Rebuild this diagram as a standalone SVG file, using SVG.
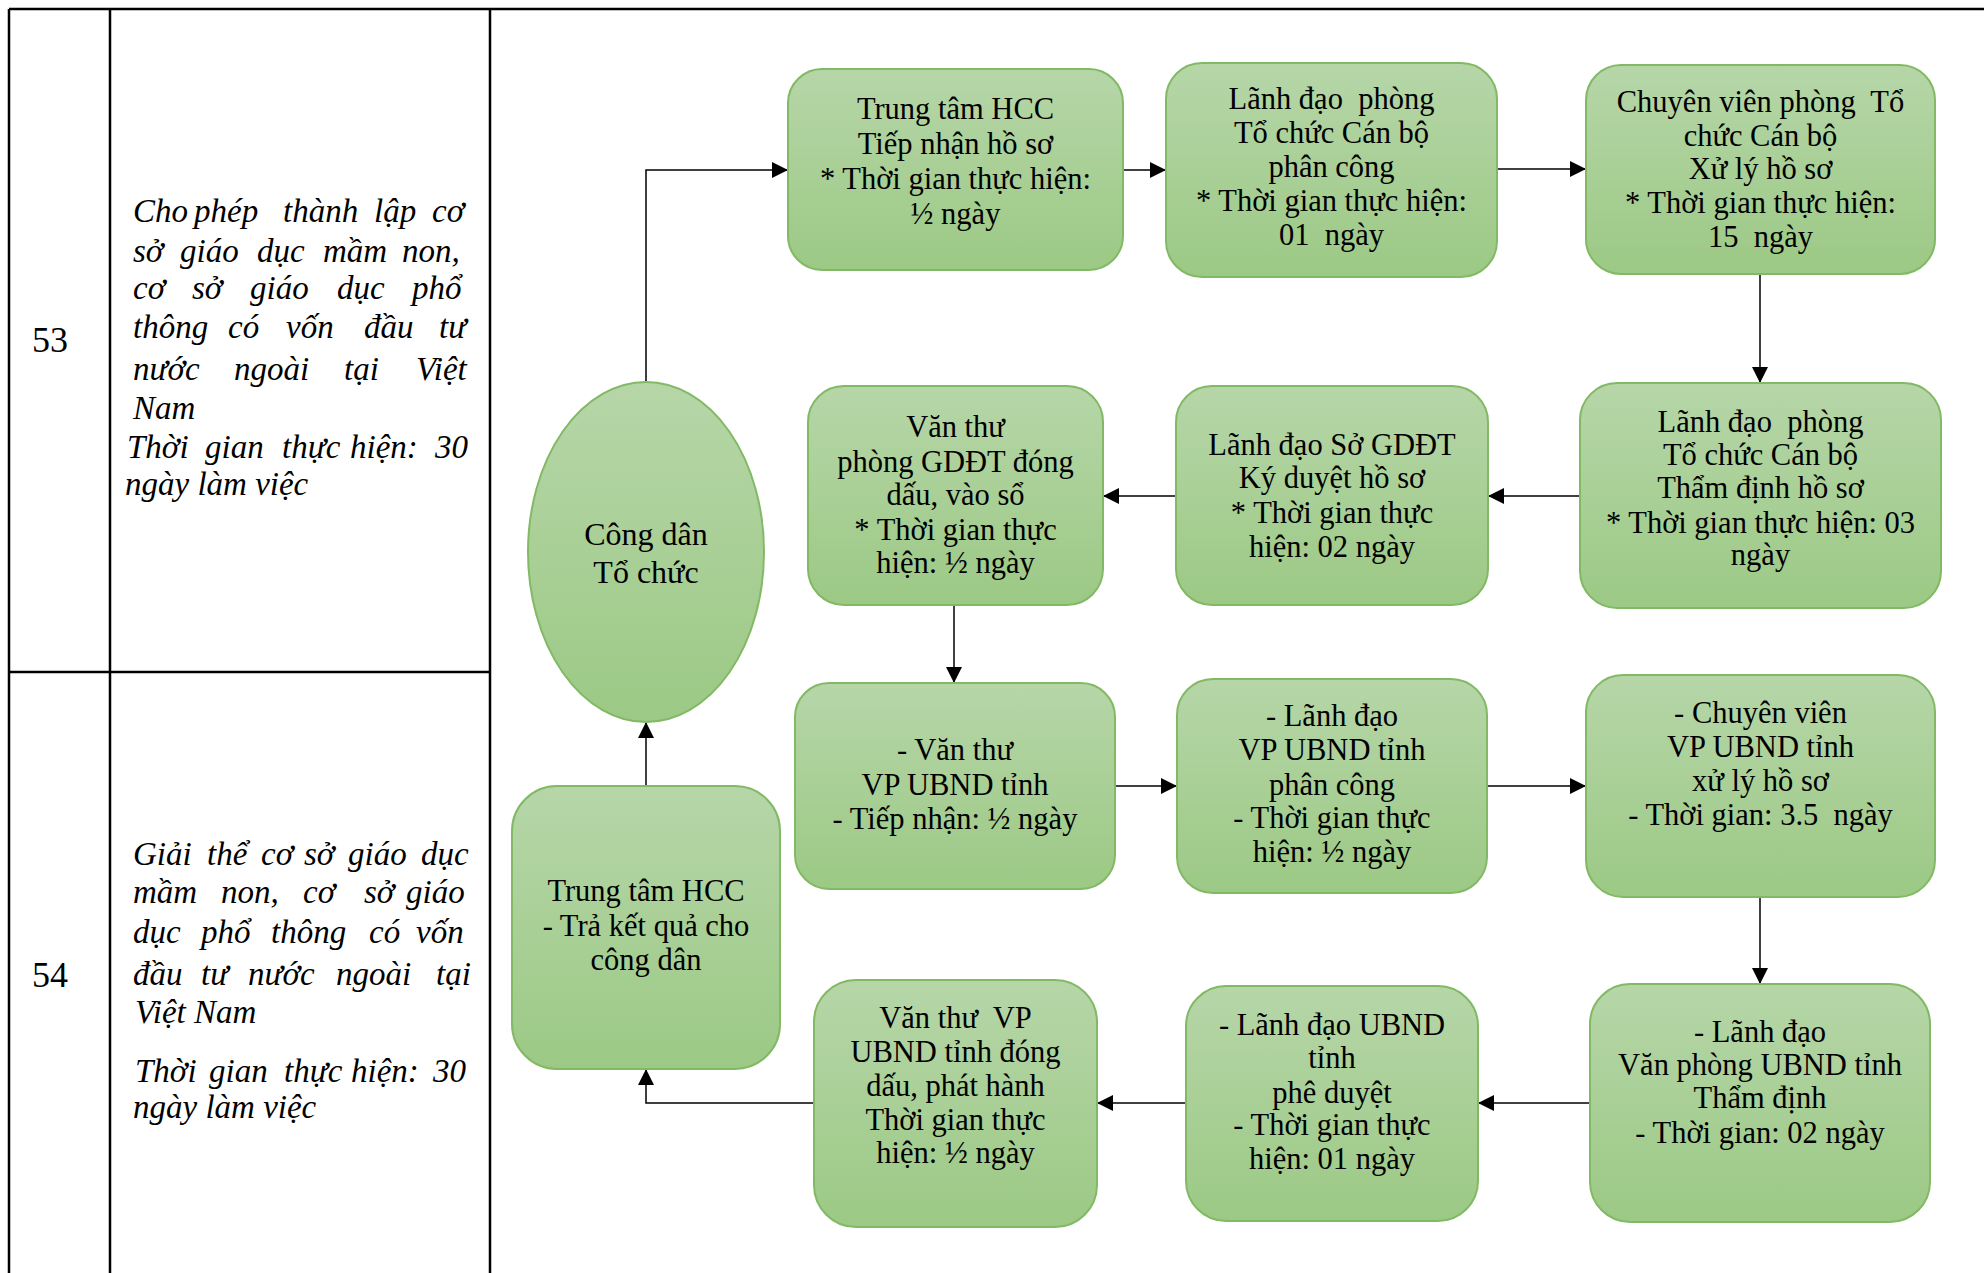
<svg xmlns="http://www.w3.org/2000/svg" width="1984" height="1273" viewBox="0 0 1984 1273">
<style>
.tbl{stroke:#000;stroke-width:2.5;fill:none}
.num{font-family:"Liberation Serif","Times New Roman",serif;font-size:36px;fill:#000}
.desc{font-family:"Liberation Serif","Times New Roman",serif;font-size:33px;font-style:italic;fill:#000}
.box{fill:url(#g);stroke:#82b964;stroke-width:2}
.lbl{font-family:"Liberation Serif","Times New Roman",serif;font-size:30.5px;fill:#000;text-anchor:middle;white-space:pre}
.big{font-size:32px}
.con{fill:none;stroke:#000;stroke-width:1.5;marker-end:url(#ah)}
</style>
<defs>
<linearGradient id="g" x1="0" y1="0" x2="0" y2="1">
<stop offset="0" stop-color="#b6d6a8"/>
<stop offset="1" stop-color="#9cc985"/>
</linearGradient>
<marker id="ah" markerUnits="userSpaceOnUse" markerWidth="16" markerHeight="16" refX="16" refY="8" orient="auto">
<path d="M0,0 L16,8 L0,16 z" fill="#000"/>
</marker>
</defs>
<rect width="1984" height="1273" fill="#fff"/>
<g id="table">
<line class="tbl" x1="9" y1="9" x2="1984" y2="9"/>
<line class="tbl" x1="9" y1="9" x2="9" y2="1273"/>
<line class="tbl" x1="110" y1="9" x2="110" y2="1273"/>
<line class="tbl" x1="490" y1="9" x2="490" y2="1273"/>
<line class="tbl" x1="9" y1="672" x2="490" y2="672"/>
<text class="num" x="32" y="352">53</text>
<text class="num" x="32" y="987">54</text>
<text class="desc" y="222"><tspan x="133">Cho</tspan><tspan x="194">phép</tspan><tspan x="283">thành</tspan><tspan x="374">lập</tspan><tspan x="432">cơ</tspan></text>
<text class="desc" y="262"><tspan x="133">sở</tspan><tspan x="180">giáo</tspan><tspan x="257">dục</tspan><tspan x="323">mầm</tspan><tspan x="402">non,</tspan></text>
<text class="desc" y="299"><tspan x="133">cơ</tspan><tspan x="192">sở</tspan><tspan x="250">giáo</tspan><tspan x="337">dục</tspan><tspan x="412">phổ</tspan></text>
<text class="desc" y="338"><tspan x="133">thông</tspan><tspan x="228">có</tspan><tspan x="286">vốn</tspan><tspan x="364">đầu</tspan><tspan x="439">tư</tspan></text>
<text class="desc" y="380"><tspan x="133">nước</tspan><tspan x="234">ngoài</tspan><tspan x="344">tại</tspan><tspan x="416">Việt</tspan></text>
<text class="desc" x="133" y="419">Nam</text>
<text class="desc" y="458"><tspan x="127">Thời</tspan><tspan x="205">gian</tspan><tspan x="282">thực</tspan><tspan x="350">hiện:</tspan><tspan x="435">30</tspan></text>
<text class="desc" x="125" y="495">ngày làm việc</text>
<text class="desc" y="865"><tspan x="133">Giải</tspan><tspan x="207">thể</tspan><tspan x="261">cơ</tspan><tspan x="304">sở</tspan><tspan x="348">giáo</tspan><tspan x="421">dục</tspan></text>
<text class="desc" y="903"><tspan x="133">mầm</tspan><tspan x="221">non,</tspan><tspan x="303">cơ</tspan><tspan x="364">sở</tspan><tspan x="406">giáo</tspan></text>
<text class="desc" y="943"><tspan x="133">dục</tspan><tspan x="201">phổ</tspan><tspan x="271">thông</tspan><tspan x="369">có</tspan><tspan x="416">vốn</tspan></text>
<text class="desc" y="985"><tspan x="133">đầu</tspan><tspan x="201">tư</tspan><tspan x="248">nước</tspan><tspan x="336">ngoài</tspan><tspan x="436">tại</tspan></text>
<text class="desc" x="135" y="1023">Việt Nam</text>
<text class="desc" y="1082"><tspan x="135">Thời</tspan><tspan x="209">gian</tspan><tspan x="284">thực</tspan><tspan x="351">hiện:</tspan><tspan x="433">30</tspan></text>
<text class="desc" x="133" y="1118">ngày làm việc</text>
</g>
<g id="connectors">
<path class="con" d="M646,382 V170 H788"/>
<path class="con" d="M1123,170 H1166"/>
<path class="con" d="M1497,169 H1586"/>
<path class="con" d="M1760,274 V383"/>
<path class="con" d="M1580,496 H1488"/>
<path class="con" d="M1176,496 H1103"/>
<path class="con" d="M954,605 V683"/>
<path class="con" d="M1115,786 H1177"/>
<path class="con" d="M1487,786 H1586"/>
<path class="con" d="M1760,897 V984"/>
<path class="con" d="M1590,1103 H1478"/>
<path class="con" d="M1186,1103 H1097"/>
<path class="con" d="M814,1103 H646 V1069"/>
<path class="con" d="M646,786 V722"/>
</g>
<g id="n-congdan">
<ellipse class="box" cx="646" cy="552" rx="118" ry="170"/>
<text class="lbl big" x="646" y="545">Công dân</text>
<text class="lbl big" x="646" y="583">Tổ chức</text>
</g>
<g id="n-hcc-tiepnhan">
<rect class="box" x="788" y="69" width="335" height="201" rx="34"/>
<text class="lbl" x="955.5" y="119">Trung tâm HCC</text>
<text class="lbl" x="955.5" y="154">Tiếp nhận hồ sơ</text>
<text class="lbl" x="955.5" y="189">* Thời gian thực hiện:</text>
<text class="lbl" x="955.5" y="224">½ ngày</text>
</g>
<g id="n-ldtccb-phancong">
<rect class="box" x="1166" y="63" width="331" height="214" rx="36"/>
<text class="lbl" x="1331.5" y="109">Lãnh đạo  phòng</text>
<text class="lbl" x="1331.5" y="143">Tổ chức Cán bộ</text>
<text class="lbl" x="1331.5" y="177">phân công</text>
<text class="lbl" x="1331.5" y="211">* Thời gian thực hiện:</text>
<text class="lbl" x="1331.5" y="245">01  ngày</text>
</g>
<g id="n-cvtccb-xuly">
<rect class="box" x="1586" y="65" width="349" height="209" rx="35"/>
<text class="lbl" x="1760.5" y="112">Chuyên viên phòng  Tổ</text>
<text class="lbl" x="1760.5" y="146">chức Cán bộ</text>
<text class="lbl" x="1760.5" y="179">Xử lý hồ sơ</text>
<text class="lbl" x="1760.5" y="213">* Thời gian thực hiện:</text>
<text class="lbl" x="1760.5" y="247">15  ngày</text>
</g>
<g id="n-ldtccb-thamdinh">
<rect class="box" x="1580" y="383" width="361" height="225" rx="37"/>
<text class="lbl" x="1760.5" y="432">Lãnh đạo  phòng</text>
<text class="lbl" x="1760.5" y="465">Tổ chức Cán bộ</text>
<text class="lbl" x="1760.5" y="498">Thẩm định hồ sơ</text>
<text class="lbl" x="1760.5" y="533">* Thời gian thực hiện: 03</text>
<text class="lbl" x="1760.5" y="565">ngày</text>
</g>
<g id="n-ldso-kyduyet">
<rect class="box" x="1176" y="386" width="312" height="219" rx="36"/>
<text class="lbl" x="1332" y="455">Lãnh đạo Sở GDĐT</text>
<text class="lbl" x="1332" y="488">Ký duyệt hồ sơ</text>
<text class="lbl" x="1332" y="523">* Thời gian thực</text>
<text class="lbl" x="1332" y="557">hiện: 02 ngày</text>
</g>
<g id="n-vanthu-gddt">
<rect class="box" x="808" y="386" width="295" height="219" rx="36"/>
<text class="lbl" x="955.5" y="437">Văn thư</text>
<text class="lbl" x="955.5" y="472">phòng GDĐT đóng</text>
<text class="lbl" x="955.5" y="505">dấu, vào sổ</text>
<text class="lbl" x="955.5" y="540">* Thời gian thực</text>
<text class="lbl" x="955.5" y="573">hiện: ½ ngày</text>
</g>
<g id="n-vanthu-ubnd-tiepnhan">
<rect class="box" x="795" y="683" width="320" height="206" rx="34"/>
<text class="lbl" x="955" y="760">- Văn thư</text>
<text class="lbl" x="955" y="795">VP UBND tỉnh</text>
<text class="lbl" x="955" y="829">- Tiếp nhận: ½ ngày</text>
</g>
<g id="n-ldvp-phancong">
<rect class="box" x="1177" y="679" width="310" height="214" rx="36"/>
<text class="lbl" x="1332" y="726">- Lãnh đạo</text>
<text class="lbl" x="1332" y="760">VP UBND tỉnh</text>
<text class="lbl" x="1332" y="795">phân công</text>
<text class="lbl" x="1332" y="828">- Thời gian thực</text>
<text class="lbl" x="1332" y="862">hiện: ½ ngày</text>
</g>
<g id="n-cvvp-xuly">
<rect class="box" x="1586" y="675" width="349" height="222" rx="37"/>
<text class="lbl" x="1760.5" y="723">- Chuyên viên</text>
<text class="lbl" x="1760.5" y="757">VP UBND tỉnh</text>
<text class="lbl" x="1760.5" y="791">xử lý hồ sơ</text>
<text class="lbl" x="1760.5" y="825">- Thời gian: 3.5  ngày</text>
</g>
<g id="n-ldvp-thamdinh">
<rect class="box" x="1590" y="984" width="340" height="238" rx="40"/>
<text class="lbl" x="1760" y="1042">- Lãnh đạo</text>
<text class="lbl" x="1760" y="1075">Văn phòng UBND tỉnh</text>
<text class="lbl" x="1760" y="1108">Thẩm định</text>
<text class="lbl" x="1760" y="1143">- Thời gian: 02 ngày</text>
</g>
<g id="n-ldubnd-pheduyet">
<rect class="box" x="1186" y="986" width="292" height="235" rx="40"/>
<text class="lbl" x="1332" y="1035">- Lãnh đạo UBND</text>
<text class="lbl" x="1332" y="1068">tỉnh</text>
<text class="lbl" x="1332" y="1103">phê duyệt</text>
<text class="lbl" x="1332" y="1135">- Thời gian thực</text>
<text class="lbl" x="1332" y="1169">hiện: 01 ngày</text>
</g>
<g id="n-vanthu-ubnd-phathanh">
<rect class="box" x="814" y="980" width="283" height="247" rx="42"/>
<text class="lbl" x="955.5" y="1028">Văn thư  VP</text>
<text class="lbl" x="955.5" y="1062">UBND tỉnh đóng</text>
<text class="lbl" x="955.5" y="1096">dấu, phát hành</text>
<text class="lbl" x="955.5" y="1130">Thời gian thực</text>
<text class="lbl" x="955.5" y="1163">hiện: ½ ngày</text>
</g>
<g id="n-hcc-traketqua">
<rect class="box" x="512" y="786" width="268" height="283" rx="45"/>
<text class="lbl" x="646" y="901">Trung tâm HCC</text>
<text class="lbl" x="646" y="936">- Trả kết quả cho</text>
<text class="lbl" x="646" y="970">công dân</text>
</g>
</svg>
